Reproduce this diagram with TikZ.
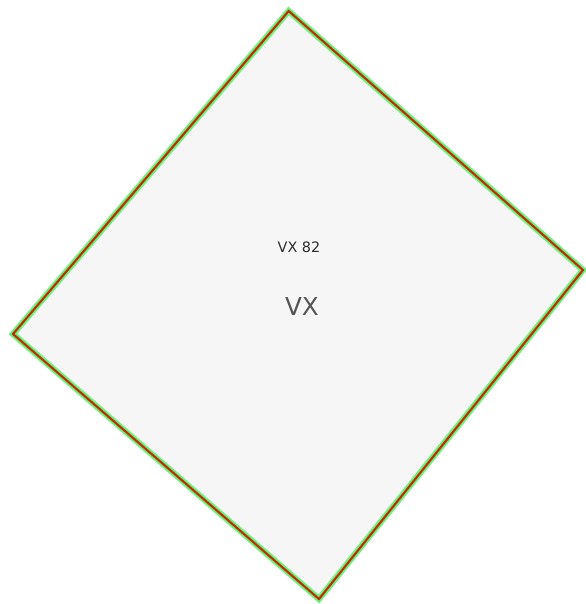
\documentclass[tikz,border=0pt]{standalone}
\usepackage{fontspec}
\setmainfont{DejaVu Sans}
\usepackage{xcolor}
\usepackage{tikz}

\definecolor{rimgreen}{HTML}{66F576}
\definecolor{rimred}{HTML}{C8280A}
\definecolor{panelgray}{HTML}{F6F6F7}
\definecolor{labeldark}{HTML}{2E2E2E}
\definecolor{labelmid}{HTML}{555555}

\begin{document}
\begin{tikzpicture}[
    x=0.75pt, y=-0.75pt,
    panel/.style={fill=panelgray},
    rimouter/.style={draw=rimgreen, line width=4.6pt, line join=miter},
    riminner/.style={draw=rimred, line width=1.6pt, line join=miter},
    tag/.style={font=\fontsize{10.8pt}{13pt}\selectfont, text=labeldark, inner sep=0pt},
    kind/.style={font=\fontsize{18.5pt}{22pt}\selectfont, text=labelmid, inner sep=0pt}
  ]
  \useasboundingbox (0,0) rectangle (586,604);

  % --- corners of the rotated plate ---
  \coordinate (ctop)    at (288.7,11);
  \coordinate (cright)  at (583,270);
  \coordinate (cbottom) at (319,599);
  \coordinate (cleft)   at (13,334);

  % plate and its double rim
  \fill[panel]   (ctop) -- (cright) -- (cbottom) -- (cleft) -- cycle;
  \draw[rimouter] (ctop) -- (cright) -- (cbottom) -- (cleft) -- cycle;
  \draw[riminner] (ctop) -- (cright) -- (cbottom) -- (cleft) -- cycle;

  % labels
  \node[tag]  (vxid)   at (299,247) {VX 82};
  \node[kind] (vxtype) at (302,307) {VX};

\end{tikzpicture}
\end{document}
